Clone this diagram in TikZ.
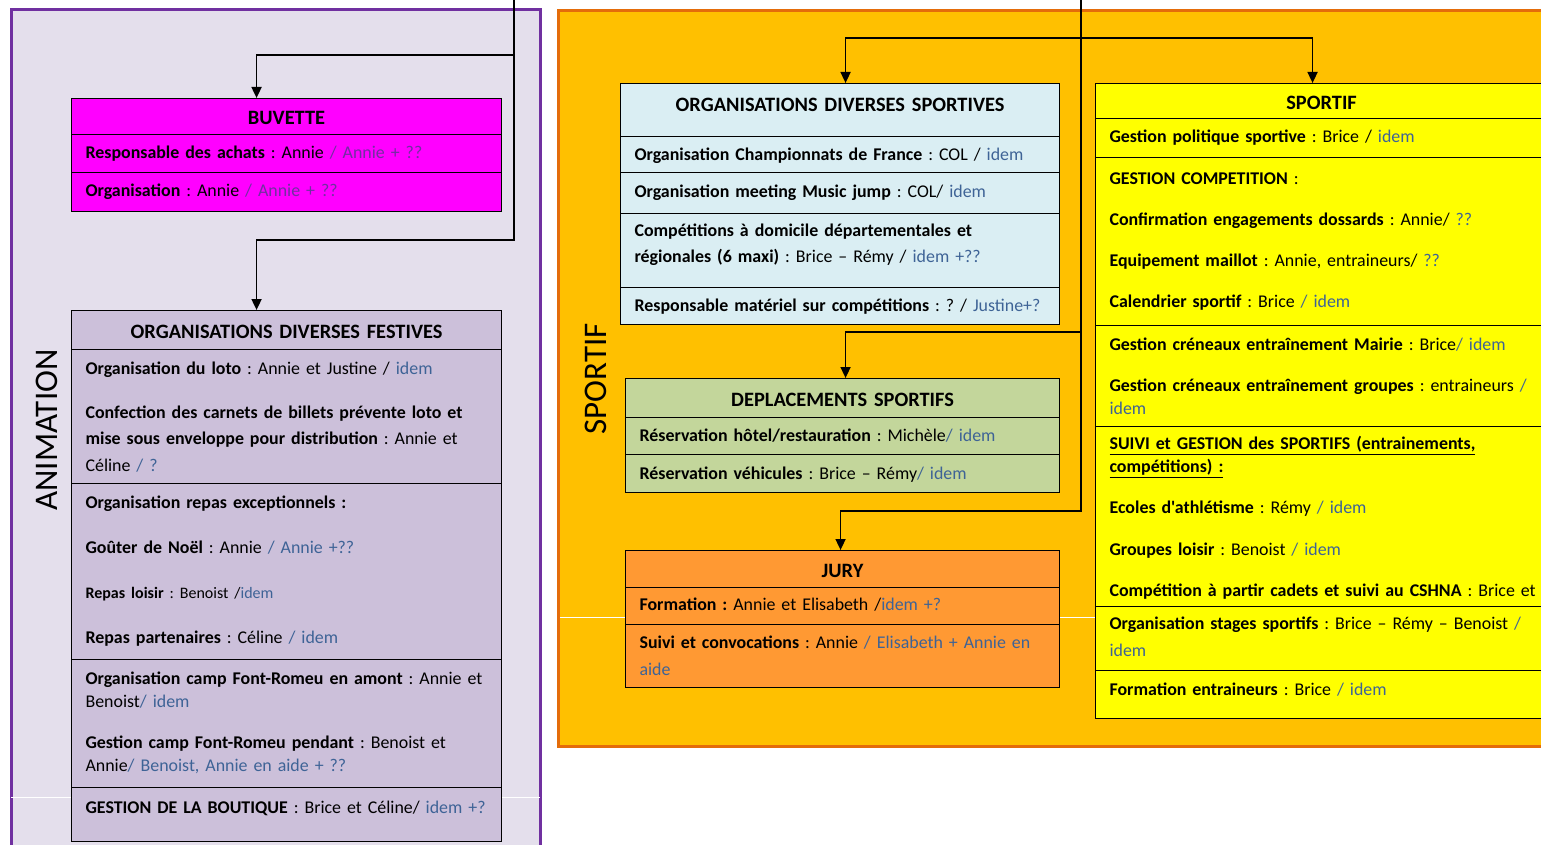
\documentclass[tikz,border=0pt]{standalone}
\usepackage{fontspec}
\setmainfont{Carlito}[Ligatures=TeXOff]
\usepackage{xcolor}
\usepackage{tikz}
\usetikzlibrary{arrows.meta}
\frenchspacing

\definecolor{animfond}{HTML}{E4DFEC}
\definecolor{animbord}{HTML}{7030A0}
\definecolor{sportfond}{HTML}{FFC000}
\definecolor{sportbord}{HTML}{E46C0A}
\definecolor{buvfond}{HTML}{FF00FF}
\definecolor{festfond}{HTML}{CCC0DA}
\definecolor{odsfond}{HTML}{DAEEF3}
\definecolor{depfond}{HTML}{C3D69B}
\definecolor{juryfond}{HTML}{FF9933}
\definecolor{spfond}{HTML}{FFFF00}
\definecolor{idem}{HTML}{3E6396}

\newcommand{\corps}{\fontsize{17.9}{23}\selectfont\frenchspacing}
\newcommand{\suppl}[1]{\textcolor{idem}{#1}}
\newcommand{\mauve}[1]{\textcolor{animbord}{#1}}

\tikzset{
  cellule/.style={draw, line width=1.1pt, anchor=north west, inner xsep=14pt, inner ysep=0pt, align=left},
  titre/.style={align=center, text height=17pt, font=\fontsize{20.4}{24}\selectfont\bfseries},
  buv/.style={cellule, fill=buvfond, text width=402pt},
  fest/.style={cellule, fill=festfond, text width=402pt},
  ods/.style={cellule, fill=odsfond, text width=411pt},
  depl/.style={cellule, fill=depfond, text width=406pt},
  jury/.style={cellule, fill=juryfond, text width=406pt},
  sport/.style={cellule, fill=spfond, text width=424pt},
}

\begin{document}
\begin{tikzpicture}[x=1pt, y=-1pt, font=\corps, >={Triangle[width=10pt,length=11pt]}]
\useasboundingbox (0,0) rectangle (1541,845);
\clip (0,0) rectangle (1541,845);

% les deux poles
\node (anim) at (275.5,440) [draw=animbord, fill=animfond, line width=3pt, minimum width=529pt, minimum height=860pt] {};
\node (sportif) at (1069,378.5) [draw=sportbord, fill=sportfond, line width=3pt, minimum width=1022pt, minimum height=735pt] {};
\draw [white, line width=0.8pt] (11,797) -- (540,797);
\draw [white, line width=0.8pt] (560,617) -- (1541,617);

\node (lanim) at (47,430) [rotate=90, font=\fontsize{33}{40}\selectfont] {ANIMATION};
\node (lsport) at (596,379) [rotate=90, font=\fontsize{33}{40}\selectfont] {SPORTIF};

% BUVETTE
\node (bvh) at (71,98) [buv, titre, minimum height=36pt] {BUVETTE};
\node (bv1) at (71,134) [buv, minimum height=38pt] {\begin{tabular}{@{}l@{}}
\textbf{Responsable des achats} : Annie \mauve{/ Annie + ??}
\end{tabular}};
\node (bv2) at (71,172) [buv, minimum height=39pt] {\begin{tabular}{@{}l@{}}
\textbf{Organisation} : Annie \mauve{/ Annie + ??}
\end{tabular}};

% FESTIVES
\node (fsh) at (71,310) [fest, titre, minimum height=39pt] {ORGANISATIONS DIVERSES FESTIVES};
\node (fs1) at (71,349) [fest, minimum height=134pt] {\begin{tabular}{@{}l@{}}
\rule{0pt}{19pt}\textbf{Organisation du loto} : Annie et Justine / \suppl{idem}\\[21pt]
\textbf{Confection des carnets de billets prévente loto et}\\[3.5pt]
\textbf{mise sous enveloppe pour distribution} : Annie et\\[3.5pt]
Céline \suppl{/ ?}
\end{tabular}};
\node (fs2) at (71,483) [fest, minimum height=176pt] {\begin{tabular}{@{}l@{}}
\textbf{Organisation repas exceptionnels :}\\[22pt]
\textbf{Goûter de Noël} : Annie \suppl{/ Annie +??}\\[22pt]
{\fontsize{16}{23}\selectfont\textbf{Repas loisir} : Benoist /\suppl{idem}}\\[22pt]
\textbf{Repas partenaires} : Céline \suppl{/ idem}
\end{tabular}};
\node (fs3) at (71,659) [fest, minimum height=128pt] {\begin{tabular}{@{}l@{}}
\textbf{Organisation camp Font-Romeu en amont} : Annie et\\
Benoist\suppl{/ idem}\\[18pt]
\textbf{Gestion camp Font-Romeu pendant} : Benoist et\\
Annie\suppl{/ Benoist, Annie en aide + ??}
\end{tabular}};
\node (fs4) at (71,787) [fest, minimum height=54pt] {\begin{tabular}{@{}l@{}}
\textbf{GESTION DE LA BOUTIQUE} : Brice et Céline/ \suppl{idem +?}\\[12pt]
\end{tabular}};

% ORGANISATIONS DIVERSES SPORTIVES
\node (odh) at (620,83) [ods, titre, minimum height=53pt, text depth=13.5pt] {ORGANISATIONS DIVERSES SPORTIVES};
\node (od1) at (620,136) [ods, minimum height=36pt] {\begin{tabular}{@{}l@{}}
\rule{0pt}{19pt}\textbf{Organisation Championnats de France} : COL / \suppl{idem}
\end{tabular}};
\node (od2) at (620,172) [ods, minimum height=41pt] {\begin{tabular}{@{}l@{}}
\textbf{Organisation meeting Music jump} : COL/ \suppl{idem}
\end{tabular}};
\node (od3) at (620,213) [ods, minimum height=74pt] {\begin{tabular}{@{}l@{}}
\textbf{Compétitions à domicile départementales et}\\[3pt]
\textbf{régionales (6 maxi)} : Brice – Rémy / \suppl{idem +??}\\[11pt]
\end{tabular}};
\node (od4) at (620,287) [ods, minimum height=37pt] {\begin{tabular}{@{}l@{}}
\rule{0pt}{18pt}\textbf{Responsable matériel sur compétitions} : ? / \suppl{Justine+?}
\end{tabular}};

% DEPLACEMENTS
\node (dph) at (625,378) [depl, titre, minimum height=39pt] {DEPLACEMENTS SPORTIFS};
\node (dp1) at (625,417) [depl, minimum height=37pt] {\begin{tabular}{@{}l@{}}
\rule{0pt}{18pt}\textbf{Réservation hôtel/restauration} : Michèle\suppl{/ idem}
\end{tabular}};
\node (dp2) at (625,454) [depl, minimum height=38pt] {\begin{tabular}{@{}l@{}}
\rule{0pt}{18pt}\textbf{Réservation véhicules} : Brice – Rémy\suppl{/ idem}
\end{tabular}};

% JURY
\node (juh) at (625,550) [jury, titre, minimum height=37pt] {JURY};
\node (ju1) at (625,587) [jury, minimum height=37pt] {\begin{tabular}{@{}l@{}}
\textbf{Formation :} Annie et Elisabeth /\suppl{idem +?}
\end{tabular}};
\node (ju2) at (625,624) [jury, minimum height=63pt] {\begin{tabular}{@{}l@{}}
\rule{0pt}{18pt}\textbf{Suivi et convocations} : Annie \suppl{/ Elisabeth + Annie en}\\[4pt]
\suppl{aide}
\end{tabular}};

% SPORTIF
\node (sph) at (1095,83) [sport, titre, minimum height=35pt] {SPORTIF};
\node (sp1) at (1095,118) [sport, minimum height=39pt] {\begin{tabular}{@{}l@{}}
\textbf{Gestion politique sportive} : Brice / \suppl{idem}
\end{tabular}};
\node (sp2) at (1095,157) [sport, minimum height=168pt] {\begin{tabular}{@{}l@{}}
\textbf{GESTION COMPETITION} :\\[18pt]
\textbf{Confirmation engagements dossards} : Annie/ \suppl{??}\\[18pt]
\textbf{Equipement maillot} : Annie, entraineurs/ \suppl{??}\\[18pt]
\textbf{Calendrier sportif} : Brice \suppl{/ idem}
\end{tabular}};
\node (sp3) at (1095,325) [sport, minimum height=101pt] {\begin{tabular}{@{}l@{}}
\rule{0pt}{19pt}\textbf{Gestion créneaux entraînement Mairie} : Brice\suppl{/ idem}\\[18pt]
\textbf{Gestion créneaux entraînement groupes} : entraineurs \suppl{/}\\
\suppl{idem}
\end{tabular}};
\node (sp4) at (1095,426) [sport, minimum height=180pt] {\begin{tabular}{@{}l@{}}
\rule{0pt}{20pt}\textbf{\underline{SUIVI et GESTION des SPORTIFS (entrainements,}}\\
\textbf{\underline{compétitions) :}}\\[18pt]
\textbf{Ecoles d'athlétisme} : Rémy \suppl{/ idem}\\[19pt]
\textbf{Groupes loisir} : Benoist \suppl{/ idem}\\[18pt]
\textbf{Compétition à partir cadets et suivi au CSHNA} : Brice et
\end{tabular}};
\node (sp5) at (1095,606) [sport, minimum height=64pt] {\begin{tabular}{@{}l@{}}
\textbf{Organisation stages sportifs} : Brice – Rémy – Benoist \suppl{/}\\[4pt]
\suppl{idem}
\end{tabular}};
\node (sp6) at (1095,670) [sport, minimum height=48pt] {\begin{tabular}{@{}l@{}}
\textbf{Formation entraineurs} : Brice \suppl{/ idem}\\[8pt]
\end{tabular}};

% liaisons
\coordinate (hautA) at (514,0);
\coordinate (hautS) at (1081,0);
\draw [->, line width=1.8pt] (hautA) -- ++(0,55) -| ([xshift=-30pt]bvh.north);
\draw [->, line width=1.8pt] (hautA) -- ++(0,240) -| ([xshift=-30pt]fsh.north);
\draw [->, line width=1.6pt] (hautS) -- ++(0,38) -| ([xshift=5.5pt]odh.north);
\draw [->, line width=1.6pt] (hautS) -- ++(0,38) -| ([xshift=-9pt]sph.north);
\draw [->, line width=1.6pt] (hautS) -- ++(0,332) -| ([xshift=3pt]dph.north);
\draw [->, line width=1.6pt] (hautS) -- ++(0,511) -| ([xshift=-2pt]juh.north);
\end{tikzpicture}
\end{document}
